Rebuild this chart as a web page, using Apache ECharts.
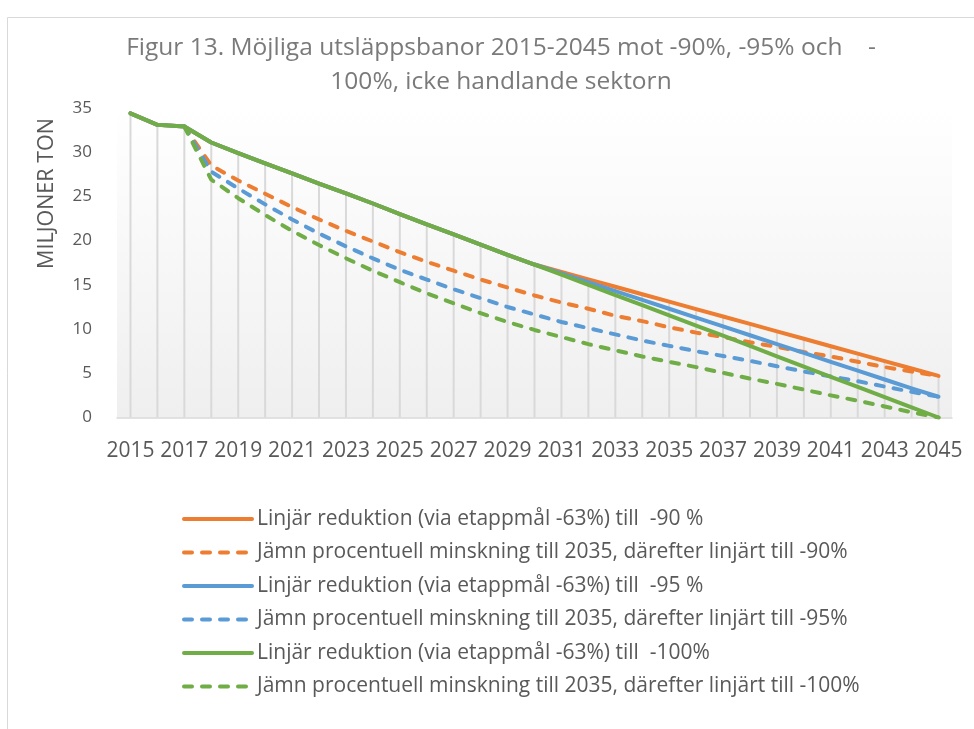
<!DOCTYPE html>
<html>
<head>
<meta charset="utf-8">
<script src="https://cdn.jsdelivr.net/npm/echarts@6/dist/echarts.min.js"></script>
<style>
html,body{margin:0;padding:0;background:#fff;}
#chart{width:974px;height:729px;}
</style>
</head>
<body>
<div id="chart"></div>
<script>
const years = ['2015','2016','2017','2018','2019','2020','2021','2022','2023','2024','2025','2026','2027','2028','2029','2030','2031','2032','2033','2034','2035','2036','2037','2038','2039','2040','2041','2042','2043','2044','2045'];

const seriesNames = [
  'Linjär reduktion (via etappmål -63%) till  -90 %',
  'Jämn procentuell minskning till 2035, därefter linjärt till -90%',
  'Linjär reduktion (via etappmål -63%) till  -95 %',
  'Jämn procentuell minskning till 2035, därefter linjärt till -95%',
  'Linjär reduktion (via etappmål -63%) till  -100%',
  'Jämn procentuell minskning till 2035, därefter linjärt till -100%'
];

const orangeSolid = [34.4,33.1,32.9,31.1,29.9,28.75,27.6,26.45,25.35,24.2,23.0,21.85,20.7,19.55,18.4,17.3,16.46,15.62,14.78,13.94,13.1,12.26,11.42,10.58,9.74,8.9,8.06,7.22,6.38,5.54,4.7];
const orangeDashed = [null,null,32.9,28.5,26.8,25.3,23.8,22.4,21.1,19.9,18.7,17.6,16.6,15.6,14.7,13.8,13.0,12.3,11.5,10.9,10.2,9.6,9.1,8.5,8.0,7.4,6.9,6.3,5.7,5.2,4.7];
const blueSolid = [34.4,33.1,32.9,31.1,29.9,28.75,27.6,26.45,25.35,24.2,23.0,21.85,20.7,19.55,18.4,17.3,16.3,15.3,14.3,13.3,12.3,11.3,10.3,9.3,8.3,7.3,6.3,5.3,4.3,3.3,2.35];
const blueDashed = [null,null,32.9,27.8,25.9,24.1,22.4,20.8,19.35,18.0,16.7,15.6,14.5,13.5,12.5,11.65,10.8,10.1,9.4,8.7,8.1,7.5,6.95,6.4,5.8,5.2,4.65,4.1,3.5,2.9,2.35];
const greenSolid = [34.4,33.1,32.9,31.1,29.9,28.75,27.6,26.45,25.35,24.2,23.0,21.85,20.7,19.55,18.4,17.3,16.15,15.0,13.85,12.7,11.55,10.4,9.25,8.1,6.9,5.75,4.6,3.45,2.3,1.15,0];
const greenDashed = [null,null,32.9,26.9,24.8,22.9,21.1,19.5,18.0,16.6,15.3,14.05,12.9,11.8,10.8,9.9,9.1,8.3,7.6,6.9,6.3,5.7,5.05,4.4,3.8,3.15,2.5,1.9,1.25,0.6,0];

const yTicks = [0,5,10,15,20,25,30,35];

const allData = [orangeSolid, orangeDashed, blueSolid, blueDashed, greenSolid, greenDashed];
const colors = ['#ED7D31','#ED7D31','#5B9BD5','#5B9BD5','#70AD47','#70AD47'];
const dashed = [false,true,false,true,false,true];

const dropData = years.map((y,i) => Math.max(...allData.map(a => a[i] == null ? 0 : a[i])));

const FONT = 'Open Sans';
const chart = echarts.init(document.getElementById('chart'));

const series = [{
  type: 'bar',
  name: 'drop',
  data: dropData,
  barWidth: 2,
  silent: true,
  itemStyle: { color: '#d9d9d9' },
  z: 1
}];
seriesNames.forEach((n,i) => {
  series.push({
    type: 'line',
    name: n,
    data: allData[i],
    symbol: 'none',
    connectNulls: false,
    z: 3 + i,
    lineStyle: {
      color: colors[i],
      width: 4,
      type: dashed[i] ? [8,10] : 'solid',
      cap: 'round',
      join: 'round'
    },
    itemStyle: { color: colors[i], opacity: 0 }
  });
});

chart.setOption({
  animation: false,
  backgroundColor: '#ffffff',
  color: colors,
  graphic: [{
    type: 'rect',
    shape: { x: 7.5, y: 17.5, width: 1000, height: 800 },
    style: { fill: 'none', stroke: '#d9d9d9', lineWidth: 1 },
    silent: true
  }, {
    type: 'text',
    x: 47,
    y: 193.5,
    rotation: Math.PI / 2,
    style: {
      text: 'MILJONER TON',
      fontFamily: FONT,
      fontSize: 21.5,
      fill: '#595959',
      align: 'center',
      verticalAlign: 'middle'
    },
    silent: true
  }],
  title: {
    text: 'Figur 13. Möjliga utsläppsbanor 2015-2045 mot -90%, -95% och    -\n100%, icke handlande sektorn',
    left: 496,
    textAlign: 'center',
    top: 26,
    textStyle: { fontFamily: FONT, fontSize: 24.5, fontWeight: 'normal', color: '#7a7a7a', lineHeight: 34 }
  },
  legend: {
    orient: 'vertical',
    left: 177,
    top: 503,
    itemWidth: 68,
    itemHeight: 14,
    itemGap: 11.5,
    data: seriesNames,
    itemStyle: { opacity: 0 },
    lineStyle: { width: 4 },
    textStyle: { fontFamily: FONT, fontSize: 21, color: '#595959', lineHeight: 22 }
  },
  grid: {
    left: 117,
    right: 22,
    top: 108,
    bottom: 311.5,
    show: true,
    borderWidth: 0,
    backgroundColor: new echarts.graphic.LinearGradient(0,0,0,1,[
      {offset: 0, color: '#ffffff'},
      {offset: 1, color: '#efefef'}
    ])
  },
  xAxis: {
    type: 'category',
    data: years,
    boundaryGap: true,
    axisLine: { lineStyle: { color: '#d9d9d9', width: 1.5 } },
    axisTick: { show: false },
    axisLabel: { interval: 1, margin: 23, fontFamily: FONT, fontSize: 21, color: '#595959' },
    splitLine: { show: false }
  },
  yAxis: {
    type: 'value',
    min: yTicks[0],
    max: yTicks[yTicks.length-1],
    interval: 5,
    axisLine: { show: false },
    axisTick: { show: false },
    splitLine: { show: false },
    axisLabel: { margin: 25, fontFamily: FONT, fontSize: 17, color: '#595959' }
  },
  series: series
});
</script>
</body>
</html>
